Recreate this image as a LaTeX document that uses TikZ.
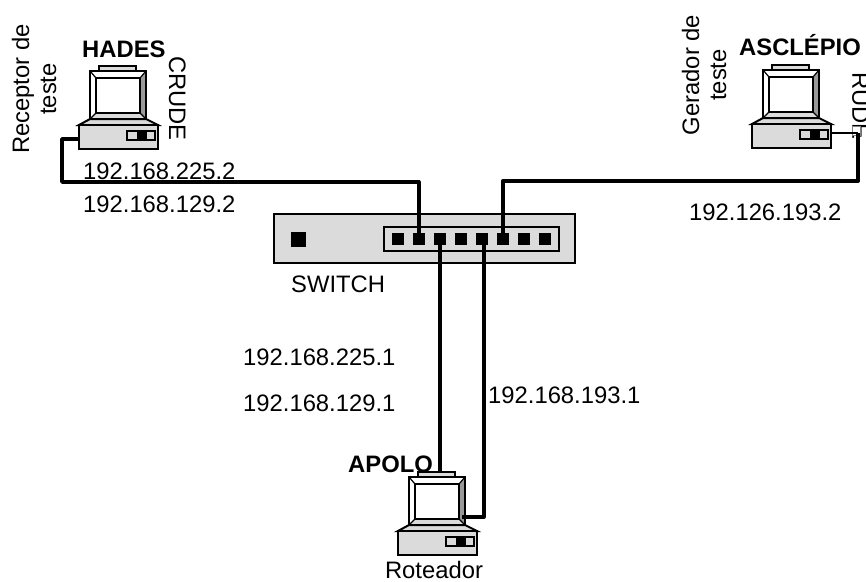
\documentclass[tikz,border=0pt]{standalone}
\usepackage{fontspec}
\setmainfont{Liberation Sans}
\usetikzlibrary{positioning}
\definecolor{boxgray}{gray}{0.86}
\definecolor{bevelgray}{gray}{0.6}
\tikzset{
  lbl/.style={inner sep=0pt, font=\fontsize{23.8}{27}\selectfont},
  hostlbl/.style={lbl, font=\fontsize{23.8}{27}\selectfont\bfseries},
  wire/.style={draw=black, line width=3.8pt, line join=round},
  thinwire/.style={draw=black, line width=2.8pt},
  case/.style={draw=black, line width=2pt, fill=boxgray},
  port/.style={rectangle, fill=black, inner sep=0pt, minimum size=12pt},
  computer/.pic={
    \draw[case, fill=boxgray, line width=1.2pt] (9,-5) rectangle (46,0);
    \draw[case, fill=white, line width=2.2pt] (0,0) rectangle (56,48);
    \fill[bevelgray] (50,7) -- (56,0) -- (56,48) -- (50,42) -- cycle;
    \fill[boxgray] (6,42) -- (50,42) -- (56,48) -- (0,48) -- cycle;
    \draw[line width=1.2pt] (0,0) -- (6,7) (56,0) -- (50,7) (0,48) -- (6,42) (56,48) -- (50,42);
    \draw[line width=2pt] (0,0) rectangle (56,48);
    \draw[line width=2pt] (6,7) rectangle (50,42);
    \draw[case] (0,48) -- (56,48) -- (68,54) -- (-11,54) -- cycle;
    \draw[case] (-11,54) rectangle (68,78);
    \draw[line width=1.8pt, fill=boxgray] (37,60) rectangle (65,69);
    \fill[black] (47,60) rectangle (57,69);
    \coordinate (-west) at (-11,68);
    \coordinate (-east) at (68,63);
    \coordinate (-top) at (30,-4);
    \coordinate (-side) at (53,40);
  }
}

\begin{document}
\begin{tikzpicture}[x=1pt, y=-1pt]
    \path[use as bounding box, clip] (0,0) rectangle (866,581);
    % switch
    \node[draw=black, line width=1.8pt, fill=boxgray, minimum width=301pt, minimum height=49pt, inner sep=0pt] (switch) at (424.5,238.5) {};
    \node[draw=black, line width=1.8pt, fill=boxgray, minimum width=175pt, minimum height=24pt, inner sep=0pt] (panel) at (471.5,239) {};
    \node[port, minimum size=15pt] (led) at (298,239.5) {};
    \foreach \i in {1,...,8}
      \node[port] (port\i) at (376.7+21*\i,239) {};
    \node[lbl, anchor=base west] (swlabel) at (291,292) {SWITCH};
    % hosts
    \pic (hades) at (90,71) {computer};
    \pic (asclepio) at (763,70) {computer};
    \pic (apolo) at (409,477) {computer};
    \node[hostlbl, anchor=base west] (hadesname) at (82,57) {HADES};
    \node[hostlbl, anchor=base west] (asclepioname) at (739,55) {ASCLÉPIO};
    \node[hostlbl, anchor=base west] (apoloname) at (348,472) {APOLO};
    \node[lbl, anchor=base] (rot) at (434,578) {Roteador};
    \node[lbl, rotate=90, align=center] (recv) at (34,89) {Receptor de\\teste};
    \node[lbl, rotate=90, align=center] (gen) at (704,75) {Gerador de\\teste};
    \node[lbl, rotate=-90, anchor=north west] (crude) at (186,56) {CRUDE};
    \node[lbl, rotate=-90, anchor=north west] (rude) at (869,72) {RUDE};
    \node[draw=gray, fill=white, line width=1pt, minimum width=8pt, minimum height=9pt, inner sep=0pt] (rudebox) at (856,130.5) {};
    % addresses
    \node[lbl, anchor=base west] (a1) at (83,179) {192.168.225.2};
    \node[lbl, anchor=base west] (a2) at (83,212) {192.168.129.2};
    \node[lbl, anchor=base west] (a3) at (689,220) {192.126.193.2};
    \node[lbl, anchor=base west] (a4) at (243,365) {192.168.225.1};
    \node[lbl, anchor=base west] (a5) at (243,411) {192.168.129.1};
    \node[lbl, anchor=base west] (a6) at (488,403) {192.168.193.1};
    % cables
    \coordinate (lbend) at (62,182);
    \coordinate (rbend) at (858,181);
    \coordinate (rend) at (858,133);
    \draw[wire] (hades-west) -| (lbend) -| (port2);
    \draw[wire] (port6) |- (rbend) -- (rend);
    \draw[thinwire] (asclepio-east) -- (rend);
    \draw[wire] (port3) -- (port3 |- apolo-top);
    \draw[wire] ([xshift=2pt]port5.center) |- (apolo-side);
\end{tikzpicture}
\end{document}
